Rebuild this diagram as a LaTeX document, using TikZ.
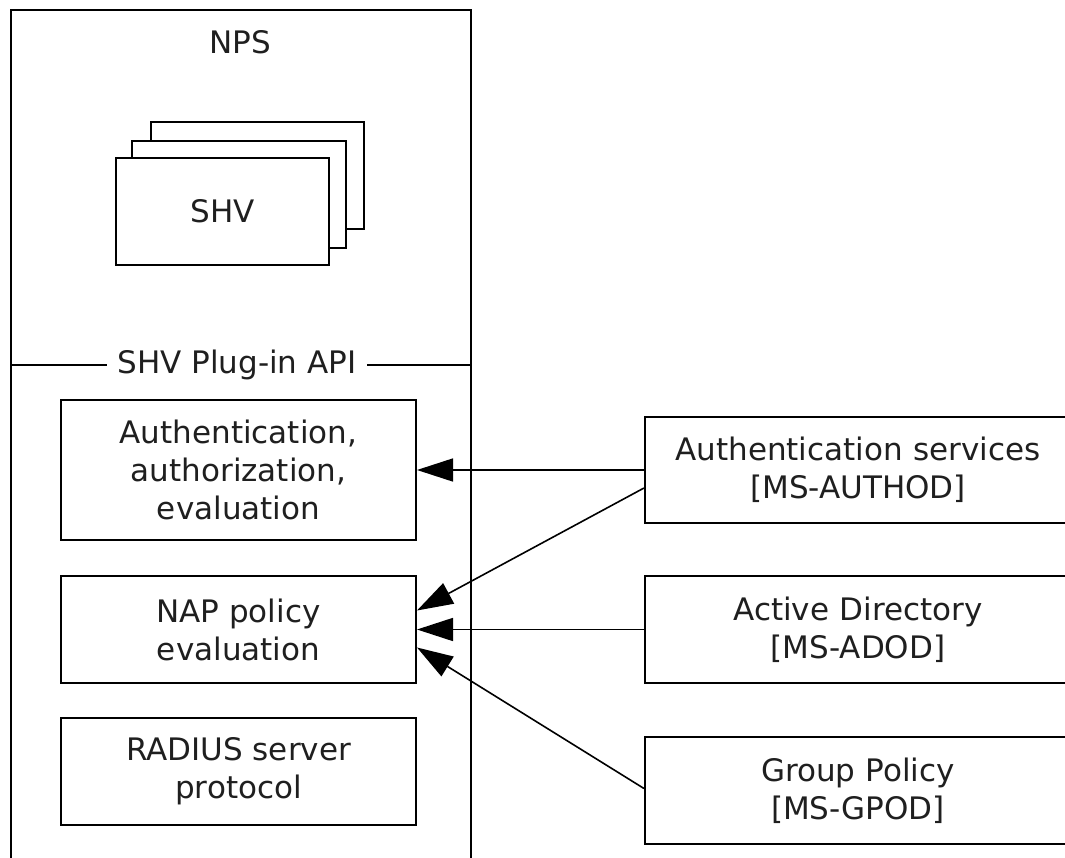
\documentclass[tikz,border=0pt]{standalone}
\usepackage{fontspec}
\setmainfont{DejaVu Sans}
\usetikzlibrary{arrows.meta}
\begin{document}
\begin{tikzpicture}[x=1pt,y=-1pt,
  txt/.style={font=\fontsize{31}{38}\selectfont, align=center, inner sep=0pt, text=black!88},
  box/.style={txt, draw, line width=2pt, fill=white, anchor=center},
  arr/.style={line width=1.6pt, -{Triangle[length=36pt,width=23pt]}}]
\useasboundingbox (0,0) rectangle (1065,858);
\clip (0,0) rectangle (1065,858);
% NPS container (open at the bottom)
\node[draw, line width=2pt, minimum width=460pt, minimum height=900pt, anchor=north west, inner sep=0pt] (nps) at (10,9) {};
\node[txt] (npslabel) at (240,42) {NPS};
% SHV stack
\node[box, minimum width=213pt, minimum height=107pt] (shv3) at (257.5,175.5) {};
\node[box, minimum width=214pt, minimum height=107pt] (shv2) at (239,194.5) {};
\node[box, minimum width=213pt, minimum height=107pt] (shv1) at (222.5,211.5) {SHV};
% API line
\coordinate (apil) at (10,365);
\coordinate (apir) at (470,365);
\draw[line width=2pt] (apil) -- (apir);
\node[txt, fill=white, inner xsep=10pt, inner ysep=4pt] (api) at (237,365) {SHV Plug-in API};
% inner boxes
\node[box, minimum width=355pt, minimum height=140pt] (aae) at (238.5,470) {Authentication,\\authorization,\\evaluation};
\node[box, minimum width=355pt, minimum height=107pt] (nap) at (238.5,629.5) {NAP policy\\evaluation};
\node[box, minimum width=355pt, minimum height=107pt] (radius) at (238.5,771.5) {RADIUS server\\protocol};
% external boxes (cut by the right edge)
\node[box, minimum width=426pt, minimum height=106pt, text width=400pt] (authsvc) at (858,470) {Authentication services\\{[MS-AUTHOD]}};
\node[box, minimum width=426pt, minimum height=107pt, text width=400pt] (ad) at (858,629.5) {Active Directory\\{[MS-ADOD]}};
\node[box, minimum width=426pt, minimum height=107pt, text width=400pt] (gp) at (858,790.5) {Group Policy\\{[MS-GPOD]}};
% connectors
\draw[arr] (authsvc.west) -- (aae.east);
\draw[arr] ([yshift=-18pt]authsvc.west) -- ([yshift=19pt]nap.east);
\draw[arr] (ad.west) -- (nap.east);
\draw[arr] ([yshift=2pt]gp.west) -- ([yshift=-18pt]nap.east);
\end{tikzpicture}
\end{document}
